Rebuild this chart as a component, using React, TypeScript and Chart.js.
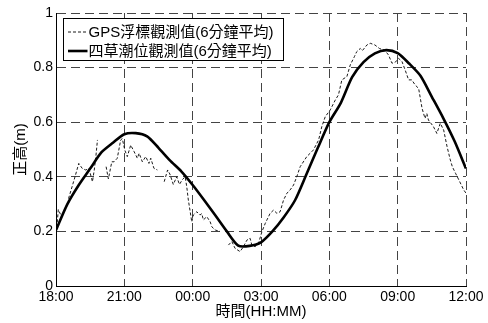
import React, { useEffect, useRef } from "react";
import { Chart, registerables } from "chart.js";

Chart.register(...registerables);

const xTickLabels = ["18:00", "21:00", "00:00", "03:00", "06:00", "09:00", "12:00"];
const yTickLabels = ["0", "0.2", "0.4", "0.6", "0.8", "1"];
const seriesNames = ["GPS浮標觀測值(6分鐘平均)", "四草潮位觀測值(6分鐘平均)"];
const xTitle = "時間(HH:MM)";
const yTitle = "正高(m)";

// hours after 18:00
const tideHours = [
  0, 0.5, 1, 1.5, 2, 2.5, 3, 3.5, 4, 4.5, 5, 5.5, 6, 6.5, 7, 7.5, 8, 8.5, 9,
  9.5, 10, 10.5, 11, 11.5, 12, 12.5, 13, 13.5, 14, 14.5, 15, 15.5, 16, 16.5,
  17, 17.5, 18,
];
const tideValues = [
  0.205, 0.3, 0.37, 0.43, 0.49, 0.525, 0.556, 0.56, 0.548, 0.506, 0.46, 0.42,
  0.37, 0.315, 0.258, 0.2, 0.148, 0.147, 0.16, 0.2, 0.252, 0.315, 0.41, 0.507,
  0.6, 0.67, 0.765, 0.82, 0.852, 0.864, 0.853, 0.815, 0.77, 0.693, 0.615, 0.53,
  0.43,
];

const gpsHours = [
  0.04, 0.1, 0.2, 0.35,
  0.55, 0.8, 1.0, 1.15, 1.3, 1.45, 1.6, 1.68, 1.75, 1.82, 2.0,
  2.2, 2.3, 2.45, 2.55, 2.69, 2.84, 2.91, 3.02, 3.13, 3.28, 3.43, 3.57, 3.65,
  3.79, 3.94, 4.08, 4.16, 4.3, 4.45, 4.6,
  4.75, 4.9, 5.0, 5.15, 5.3, 5.42, 5.55, 5.67, 5.74, 5.81, 5.88, 5.96, 6.03,
  6.18, 6.32, 6.4, 6.47, 6.62, 6.77, 6.84, 6.99, 7.2, 7.4,
  7.57, 7.72, 7.86, 8.08, 8.23, 8.38, 8.52, 8.6, 8.74, 8.89, 9.04, 9.19, 9.26,
  9.4, 9.55, 9.7, 9.84, 9.99, 10.14, 10.28, 10.43, 10.57, 10.72, 11.01, 11.3,
  11.53, 11.67, 11.82, 12.04, 12.26, 12.4, 12.55, 12.77, 12.92, 13.1, 13.2,
  13.36, 13.45, 13.65, 13.8, 14.0, 14.2, 14.43, 14.6, 14.75, 14.9, 15.04,
  15.19, 15.33, 15.48, 15.62, 15.77, 15.92, 16.07, 16.2, 16.28, 16.35, 16.57,
  16.72, 16.87, 17.02, 17.17, 17.31, 17.4, 17.54, 17.69, 17.9, 18.0,
];
const gpsValues = [
  0.215, 0.28, 0.262, null,
  0.32, 0.39, 0.449, 0.431, 0.425, 0.43, 0.382, 0.425, 0.474, 0.535, null,
  0.437, 0.392, 0.455, 0.455, 0.468, 0.535, 0.54, 0.498, 0.474, 0.516, 0.492,
  0.468, 0.486, 0.455, 0.474, 0.449, 0.468, 0.431, 0.425, null,
  0.382, 0.425, 0.41, 0.372, 0.4, 0.372, 0.39, 0.4, 0.364, 0.315, 0.278, 0.235,
  0.26, 0.272, 0.26, 0.265, 0.242, 0.254, 0.235, 0.217, 0.205, 0.2, null,
  0.15, 0.163, 0.138, 0.126, 0.144, 0.168, 0.175, 0.15, 0.144, 0.156, 0.199,
  0.23, 0.242, 0.266, 0.278, 0.266, 0.272, 0.315, 0.34, 0.352, 0.37, 0.4,
  0.437, 0.474, 0.498, 0.535, 0.584, 0.62, 0.645, 0.681, 0.7, 0.755, 0.767,
  0.81, 0.84, 0.858, 0.87, 0.862, 0.883, 0.889, 0.883, 0.87, 0.864, 0.846,
  0.816, 0.82, 0.834, 0.822, 0.791, 0.755, 0.755, 0.736, 0.724, 0.651, 0.614,
  0.632, 0.608, 0.584, 0.559, 0.596, 0.571, 0.51, 0.462, 0.437, 0.413, 0.388,
  0.352, 0.34,
];

const FONT = "'Liberation Sans', 'Noto Sans CJK TC', Arial, sans-serif";

const legendBoxPlugin = {
  id: "legendBox",
  afterDraw(chart: any) {
    const { ctx, chartArea } = chart;
    const x = chartArea.left + 7.5;
    const y = chartArea.top + 5.5;
    const w = 220;
    const h = 42;
    ctx.save();
    ctx.fillStyle = "#ffffff";
    ctx.fillRect(x, y, w, h);
    ctx.strokeStyle = "#000000";
    ctx.lineWidth = 1;
    ctx.setLineDash([]);
    ctx.strokeRect(x, y, w, h);

    const rows = [
      { dash: [3, 2], width: 0.9, cy: y + 13.5 },
      { dash: [], width: 2.6, cy: y + 32.5 },
    ];
    ctx.font = `15px ${FONT}`;
    ctx.fillStyle = "#000";
    ctx.textBaseline = "middle";
    ctx.textAlign = "left";
    rows.forEach((r, i) => {
      ctx.beginPath();
      ctx.setLineDash(r.dash);
      ctx.lineWidth = r.width;
      ctx.moveTo(x + 4.5, r.cy);
      ctx.lineTo(x + 24, r.cy);
      ctx.stroke();
      ctx.setLineDash([]);
      ctx.fillText(seriesNames[i], x + 25, r.cy + 0.5);
    });
    ctx.restore();
  },
};

export default function App() {
  const ref = useRef<HTMLCanvasElement>(null);

  useEffect(() => {
    document.body.style.margin = "0";
    const canvas = ref.current!;
    const chart = new Chart(canvas, {
      type: "line",
      data: {
        datasets: [
          {
            label: seriesNames[0],
            data: gpsHours.map((h, i) => ({ x: h, y: gpsValues[i] as any })),
            borderColor: "#000",
            borderWidth: 0.9,
            borderDash: [3, 2],
            pointRadius: 0,
            tension: 0,
            spanGaps: false,
          },
          {
            label: seriesNames[1],
            data: tideHours.map((h, i) => ({ x: h, y: tideValues[i] })),
            borderColor: "#000",
            borderWidth: 2.6,
            pointRadius: 0,
            tension: 0.25,
          },
        ],
      },
      options: {
        animation: false,
        responsive: false,
        devicePixelRatio: 1,
        layout: { padding: { top: 13, right: 22, left: 0, bottom: 0 } },
        plugins: {
          legend: { display: false },
          tooltip: { enabled: false },
        },
        scales: {
          x: {
            type: "linear",
            min: 0,
            max: 18,
            afterFit: (s: any) => {
              s.height = 37;
            },
            ticks: {
              stepSize: 3,
              padding: 3,
              color: "#000",
              font: { family: FONT, size: 14 },
              maxRotation: 0,
              callback: (v: any) => xTickLabels[Math.round(Number(v) / 3)] ?? "",
            },
            grid: {
              color: "#444",
              lineWidth: 1,
              drawTicks: false,
            },
            border: { display: true, color: "#000", width: 1, dash: [9, 5] },
            title: {
              display: true,
              text: xTitle,
              color: "#000",
              font: { family: FONT, size: 15 },
              padding: { top: 0, bottom: 2 },
            },
          },
          y: {
            min: 0,
            max: 1,
            afterFit: (s: any) => {
              s.width = 56;
            },
            ticks: {
              stepSize: 0.2,
              padding: 3,
              color: "#000",
              font: { family: FONT, size: 14 },
              callback: (v: any) => yTickLabels[Math.round(Number(v) / 0.2)] ?? "",
            },
            grid: {
              color: "#444",
              lineWidth: 1,
              drawTicks: false,
            },
            border: { display: true, color: "#000", width: 1, dash: [9, 5] },
            title: {
              display: true,
              text: yTitle,
              color: "#000",
              font: { family: FONT, size: 15 },
              padding: { top: 12, bottom: 0 },
            },
          },
        },
      } as any,
      plugins: [legendBoxPlugin],
    });
    return () => chart.destroy();
  }, []);

  return (
    <div style={{ position: "fixed", left: 0, top: 0, width: 488, height: 323, background: "#fff" }}>
      <canvas ref={ref} width={488} height={323} style={{ width: 488, height: 323 }} />
    </div>
  );
}
